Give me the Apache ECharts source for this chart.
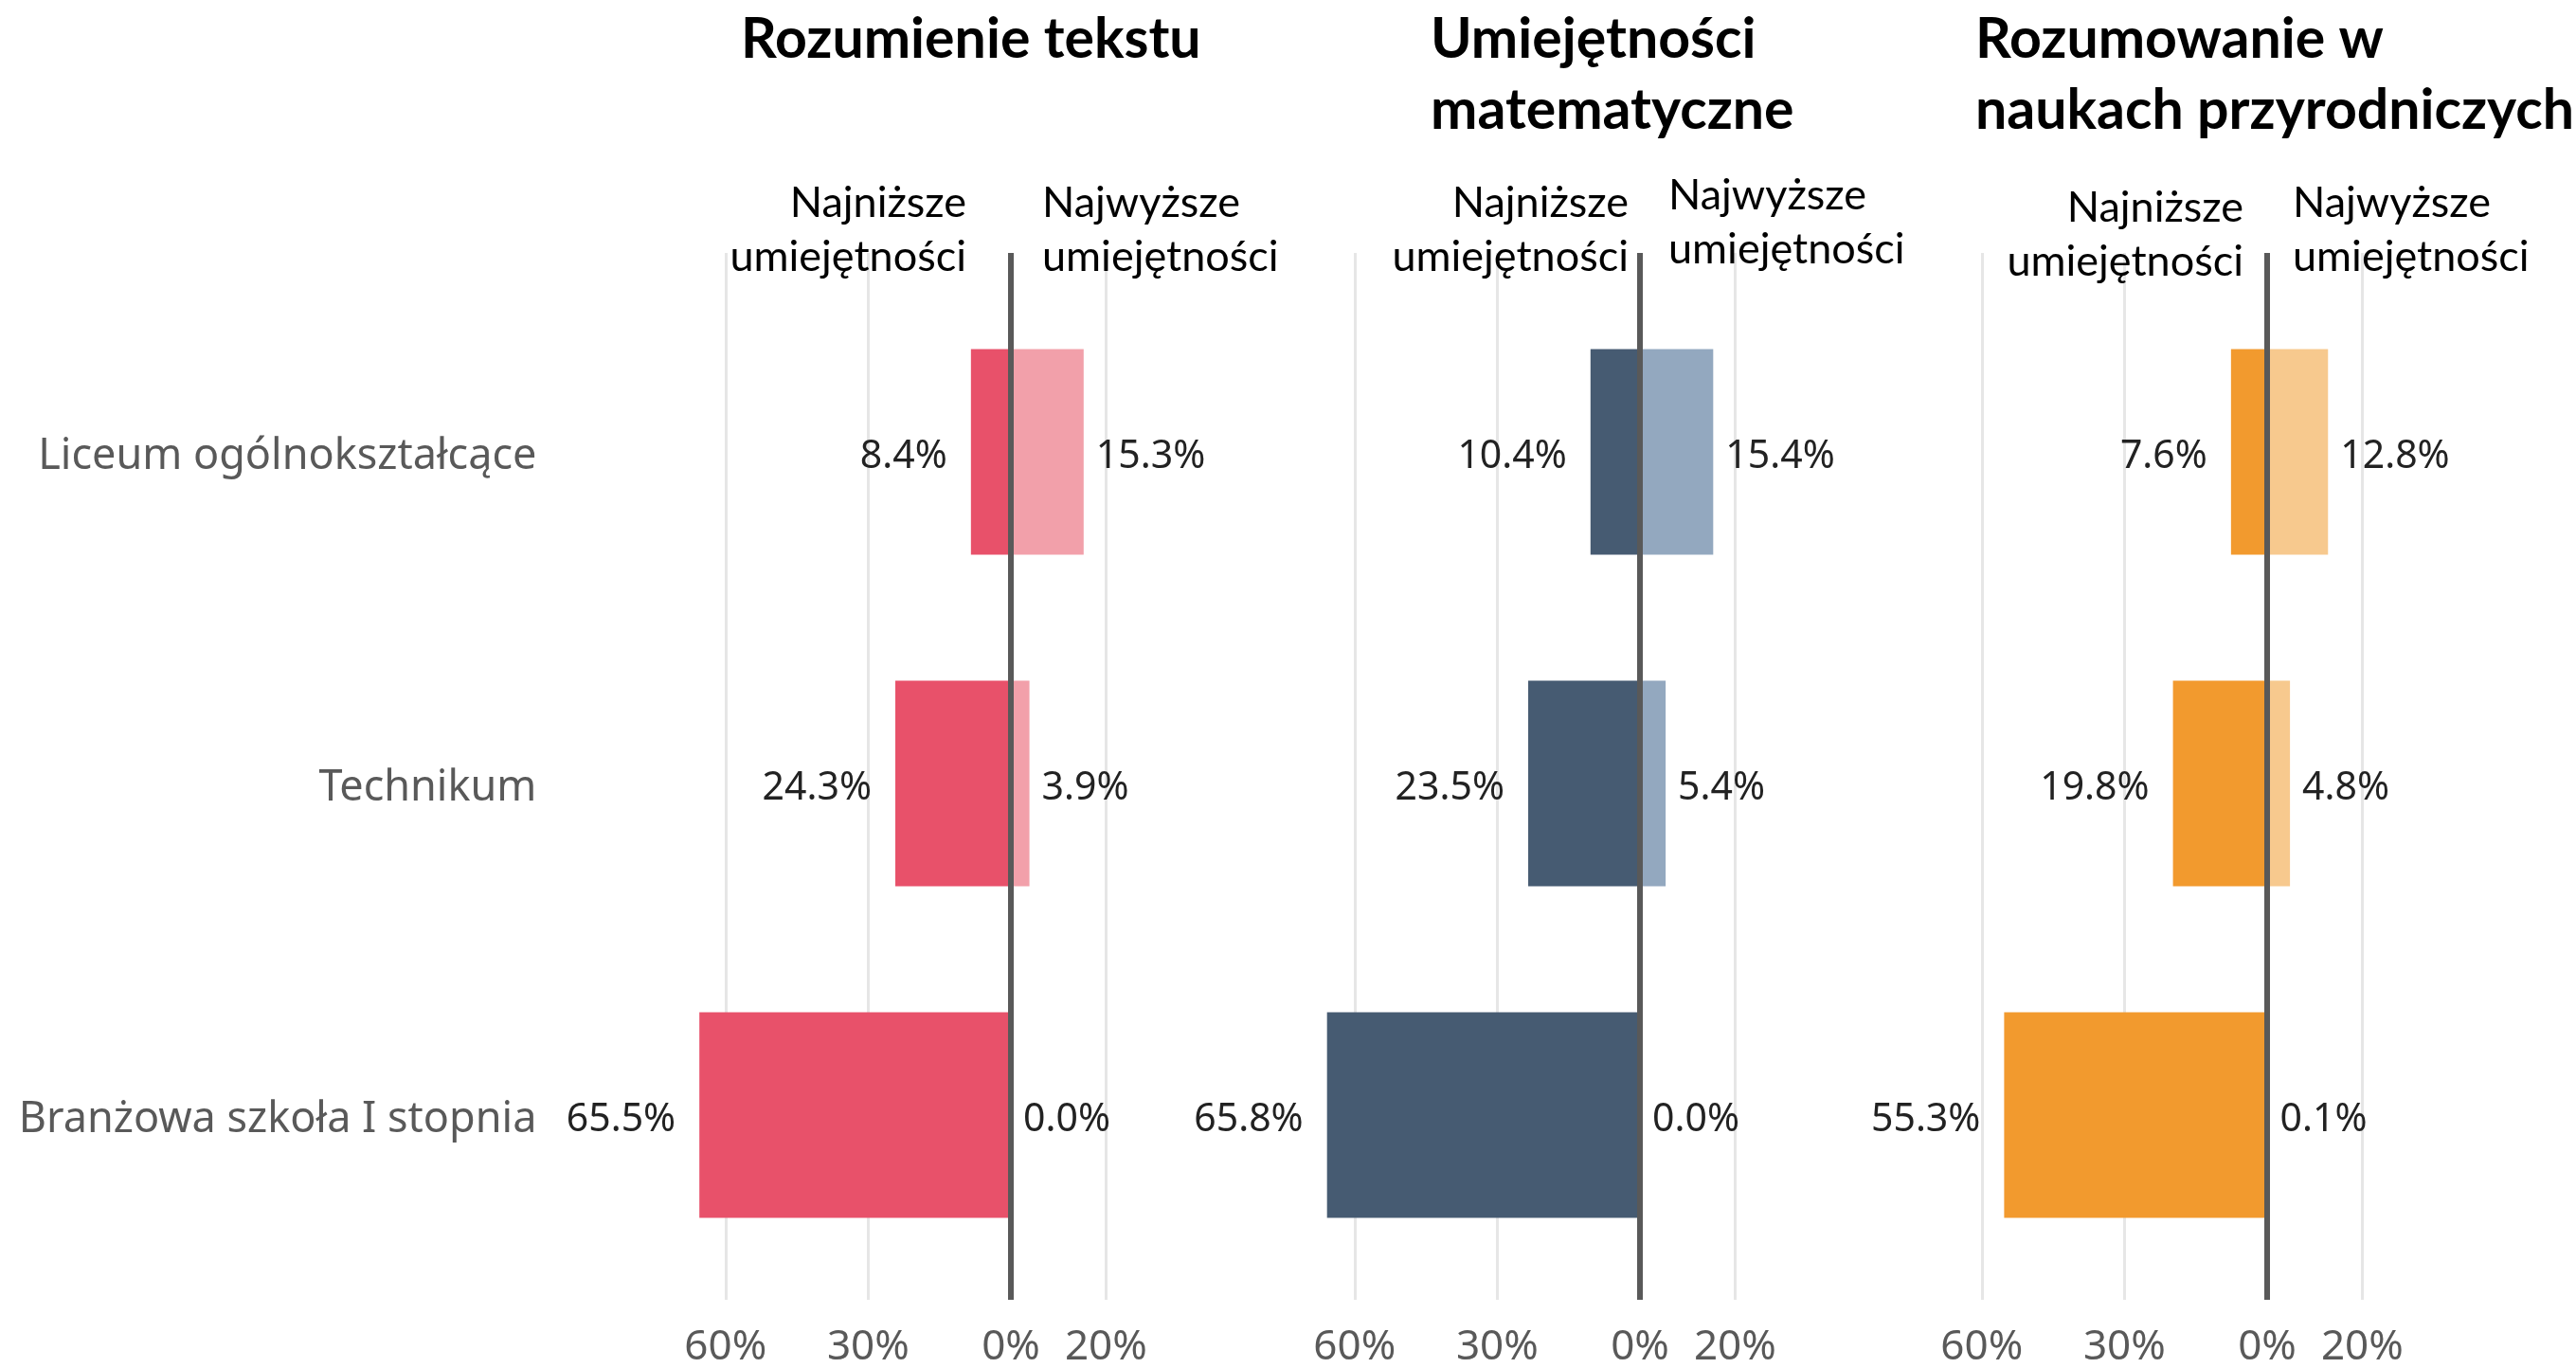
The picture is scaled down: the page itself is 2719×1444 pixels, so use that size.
<!DOCTYPE html>
<html>
<head>
<meta charset="utf-8">
<script src="https://cdn.jsdelivr.net/npm/echarts@6/dist/echarts.min.js"></script>
<style>
html, body { margin: 0; padding: 0; background: #ffffff; }
#chart { width: 2719px; height: 1444px; }
</style>
</head>
<body>
<div id="chart"></div>
<script>
// ---- data ----
const categories = ['Liceum ogólnokształcące', 'Technikum', 'Branżowa szkoła I stopnia'];
const panelTitles = ['Rozumienie tekstu', 'Umiejętności\nmatematyczne', 'Rozumowanie w\nnaukach przyrodniczych'];
const lowestHeader = 'Najniższe\numiejętności';
const highestHeader = 'Najwyższe\numiejętności';
const readingLowest = [8.4, 24.3, 65.5];
const readingHighest = [15.3, 3.9, 0.0];
const mathLowest = [10.4, 23.5, 65.8];
const mathHighest = [15.4, 5.4, 0.0];
const scienceLowest = [7.6, 19.8, 55.3];
const scienceHighest = [12.8, 4.8, 0.1];
const tickValues = [-60, -30, 0, 20];

// ---- styling / layout ----
const panels = [
  { lowest: readingLowest, highest: readingHighest, dark: '#E8516A', light: '#F2A0AA', zero: 1067,
    titleLeft: 782, lowRight: 1020, lowTop: 186, highLeft: 1100, highTop: 186 },
  { lowest: mathLowest, highest: mathHighest, dark: '#465B72', light: '#93A8BF', zero: 1731,
    titleLeft: 1510, lowRight: 1719, lowTop: 186, highLeft: 1761, highTop: 178 },
  { lowest: scienceLowest, highest: scienceHighest, dark: '#F29A2E', light: '#F7C98E', zero: 2393,
    titleLeft: 2085, lowRight: 2368, lowTop: 191, highLeft: 2420, highTop: 186 }
];
const xMin = -80, xMax = 40;
const pxPerUnit = 5.02;
const gridWidth = (xMax - xMin) * pxPerUnit;

const grids = [], xAxes = [], yAxes = [], series = [], titles = [];
const fmt = v => Math.abs(v).toFixed(1) + '%';

panels.forEach((p, i) => {
  const left = p.zero + xMin * pxPerUnit;
  grids.push({ left: left, width: gridWidth, top: 302, height: 1050 });
  grids.push({ left: left, width: gridWidth, top: 267, height: 1120 });
  const gBar = i * 2, gDec = i * 2 + 1;

  xAxes.push({ gridIndex: gBar, type: 'value', min: xMin, max: xMax, interval: 10, show: false });
  xAxes.push({ gridIndex: gDec, type: 'value', min: xMin, max: xMax, interval: 10,
    axisLine: { show: false }, axisTick: { show: false }, splitLine: { show: false },
    axisLabel: { margin: 28, fontSize: 44, color: '#595959', fontFamily: 'Noto Sans',
      formatter: v => tickValues.includes(v) ? Math.abs(v) + '%' : '' } });

  yAxes.push({ gridIndex: gBar, type: 'category', data: categories, inverse: true,
    axisLine: { show: false }, axisTick: { show: false }, splitLine: { show: false },
    axisLabel: { show: i === 0, margin: 99, formatter: v => '{c|' + v + '}',
      rich: { c: { fontSize: 45, color: '#595959', fontFamily: 'Noto Sans', padding: [10, 0, 0, 0] } } } });
  yAxes.push({ gridIndex: gDec, type: 'value', min: 0, max: 1, show: false });

  series.push({
    type: 'line', xAxisIndex: gDec, yAxisIndex: gDec, data: [], silent: true, z: 1,
    markLine: { symbol: 'none', silent: true, z: 1, label: { show: false },
      lineStyle: { color: '#e6e6e6', width: 3, type: 'solid' },
      data: tickValues.filter(v => v !== 0).map(v => ({ xAxis: v })) }
  });
  series.push({
    type: 'line', xAxisIndex: gDec, yAxisIndex: gDec, data: [], silent: true, z: 10,
    markLine: { symbol: 'none', silent: true, z: 10, label: { show: false },
      lineStyle: { color: '#595959', width: 6, type: 'solid' },
      data: tickValues.filter(v => v === 0).map(v => ({ xAxis: v })) }
  });

  series.push({
    type: 'bar', xAxisIndex: gBar, yAxisIndex: gBar, barWidth: 217, barGap: '-100%', z: 3,
    itemStyle: { color: p.dark },
    label: { show: true, position: 'left', distance: 25, offset: [0, 5], fontSize: 41, color: '#222222',
      fontFamily: 'Noto Sans', formatter: d => fmt(d.value) },
    data: p.lowest.map(v => -v)
  });
  series.push({
    type: 'bar', xAxisIndex: gBar, yAxisIndex: gBar, barWidth: 217, barGap: '-100%', z: 3,
    itemStyle: { color: p.light },
    label: { show: true, position: 'right', distance: 13, offset: [0, 5], fontSize: 41, color: '#222222',
      fontFamily: 'Noto Sans', formatter: d => fmt(d.value) },
    data: p.highest.slice()
  });

  titles.push({ text: panelTitles[i], left: p.titleLeft, top: 4, padding: 0,
    textStyle: { fontSize: 59, fontWeight: 'bold', fontFamily: 'Lato', color: '#000', lineHeight: 75 } });
  titles.push({ text: lowestHeader, left: p.lowRight, top: p.lowTop, padding: 0, textAlign: 'right',
    textStyle: { fontSize: 45, fontWeight: 'normal', fontFamily: 'Lato', color: '#000', lineHeight: 57, align: 'right' } });
  titles.push({ text: highestHeader, left: p.highLeft, top: p.highTop, padding: 0,
    textStyle: { fontSize: 45, fontWeight: 'normal', fontFamily: 'Lato', color: '#000', lineHeight: 57 } });
});

const chart = echarts.init(document.getElementById('chart'), null, { renderer: 'canvas' });
chart.setOption({
  animation: false,
  backgroundColor: '#ffffff',
  title: titles,
  grid: grids,
  xAxis: xAxes,
  yAxis: yAxes,
  series: series
});
</script>
</body>
</html>
